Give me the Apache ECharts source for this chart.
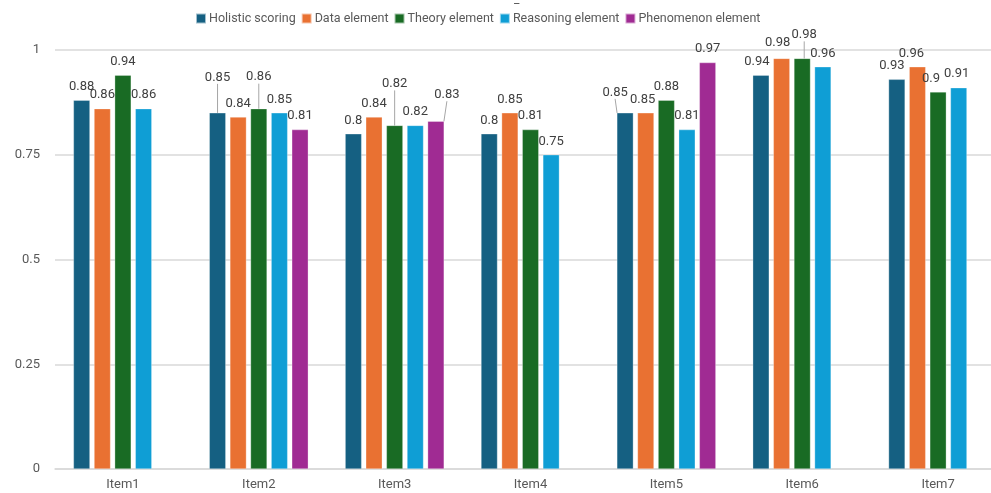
<!DOCTYPE html>
<html>
<head>
<meta charset="utf-8">
<script src="https://cdn.jsdelivr.net/npm/echarts@6/dist/echarts.min.js"></script>
<style>html,body{margin:0;padding:0;background:#fff}#c{width:991px;height:493px}</style>
</head>
<body>
<div id="c"></div>
<script>
var categories = ['Item1','Item2','Item3','Item4','Item5','Item6','Item7'];
var seriesNames = ['Holistic scoring','Data element','Theory element','Reasoning element','Phenomenon element'];
var holistic = [0.88, 0.85, 0.8, 0.8, 0.85, 0.94, 0.93];
var dataEl = [0.86, 0.84, 0.84, 0.85, 0.85, 0.98, 0.96];
var theory = [0.94, 0.86, 0.82, 0.81, 0.88, 0.98, 0.9];
var reasoning = [0.86, 0.85, 0.82, 0.75, 0.81, 0.96, 0.91];
var phenomenon = [null, 0.81, 0.83, null, 0.97, null, null];
var yTicks = [0, 0.25, 0.5, 0.75, 1];

var colors = ['#156082','#E97132','#196B24','#0F9ED5','#A02B93'];
var values = [holistic, dataEl, theory, reasoning, phenomenon];
var font = 'Roboto, "Liberation Sans", sans-serif';

// manual label nudges (series,category) -> [dx, dy, leaderLine]
var nudges = {
  '0,1': [0, -22, true], '2,1': [0, -18, true],
  '2,2': [0, -28, true], '4,2': [11, -13, true],
  '0,4': [-10, -7, true], '1,4': [-3, 0, false],
  '0,5': [-4, 0, false], '1,5': [-4, -2, false], '2,5': [2, -10, true],
  '0,6': [-5, 0, false], '1,6': [-6, 0, false], '2,6': [-7, 0, false], '3,6': [-2, 0, false]
};

var chart = echarts.init(document.getElementById('c'));
chart.setOption({
  animation: false,
  color: colors,
  textStyle: {fontFamily: font},
  title: {text: '_', left: 509, top: -11, textStyle: {fontSize: 12, color: '#595959', fontWeight: 'normal'}},
  legend: {
    data: seriesNames, left: 190, top: 7, itemWidth: 10, itemHeight: 10, itemGap: 5,
    icon: 'rect',
    textStyle: {fontSize: 12.5, color: '#595959', fontFamily: font, padding: [0,0,0,-2]}
  },
  grid: {left: 55, right: -15, top: 50, bottom: 24, containLabel: false, outerBoundsMode: 'none'},
  xAxis: {
    type: 'category', data: categories,
    axisLine: {lineStyle: {color: '#d9d9d9', width: 1.5}},
    axisTick: {show: false},
    axisLabel: {fontSize: 13, color: '#595959', margin: 9}
  },
  yAxis: {
    type: 'value', min: 0, max: 1, interval: 0.25,
    name: '-', nameLocation: 'middle', nameGap: 40, nameRotate: 90,
    nameTextStyle: {fontSize: 10, color: '#595959'},
    axisLine: {show: false}, axisTick: {show: false},
    axisLabel: {fontSize: 13, color: '#595959', margin: 15,
      formatter: function(v){ return yTicks.indexOf(v) >= 0 ? String(v) : ''; }},
    splitLine: {lineStyle: {color: '#d9d9d9', width: 1.5}}
  },
  series: seriesNames.map(function(n, i){
    return {
      name: n, type: 'bar',
      data: values[i].map(function(v, j){
        var k = nudges[i + ',' + j];
        return {value: v, labelLine: {show: !!(k && k[2])}};
      }),
      barWidth: 16.5, barGap: '25%',
      itemStyle: {color: colors[i], borderColor: 'rgba(255,255,255,0.6)', borderWidth: 0.5},
      label: {show: true, position: 'top', fontSize: 13, color: '#404040', distance: 7,
        formatter: function(p){ return p.value == null ? '' : String(p.value); }},
      labelLine: {lineStyle: {color: '#a6a6a6', width: 1}},
      labelLayout: function(p){
        var k = nudges[p.seriesIndex + ',' + p.dataIndex];
        return k ? {dx: k[0], dy: k[1]} : {};
      }
    };
  })
});
</script>
</body>
</html>
